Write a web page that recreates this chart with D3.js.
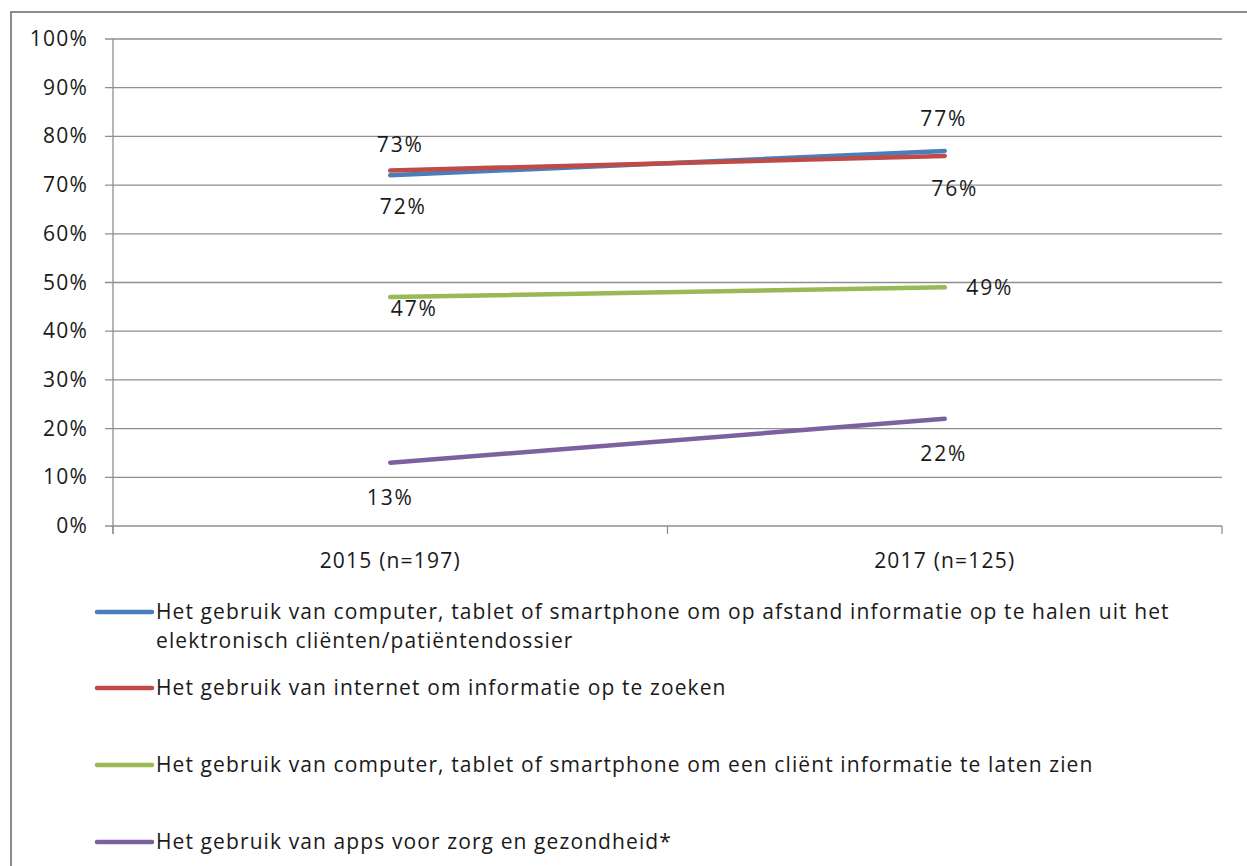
<!DOCTYPE html>
<html>
<head>
<meta charset="utf-8">
<script src="https://cdn.jsdelivr.net/npm/d3@7"></script>
<style>
  body { margin: 0; background: #fff; }
  text { font-family: "Open Sans", "Noto Sans", sans-serif; fill: #1a1a1a; }
</style>
</head>
<body>
<div id="chart"></div>
<script>
var width = 1247;
var height = 866;

// data
var years = ["2015 (n=197)", "2017 (n=125)"];
var series_names = [
  "Het gebruik van computer, tablet of smartphone om op afstand informatie op te halen uit het|elektronisch cliënten/patiëntendossier",
  "Het gebruik van internet om informatie op te zoeken",
  "Het gebruik van computer, tablet of smartphone om een cliënt informatie te laten zien",
  "Het gebruik van apps voor zorg en gezondheid*"
];
var blue_vals = [72, 77];
var red_vals = [73, 76];
var green_vals = [47, 49];
var purple_vals = [13, 22];
var y_ticks = [0, 10, 20, 30, 40, 50, 60, 70, 80, 90, 100];

let colors = ["#4A7EBB", "#BE4B48", "#98B954", "#7D60A0"];
let all_vals = [blue_vals, red_vals, green_vals, purple_vals];
// label placement (dx, dy from the point) like excel put them
let label_off = [
  [[13, 39], [-1, -25]],
  [[10, -18], [10, 40]],
  [[24, 19], [45, 8]],
  [[0, 42], [-1, 42]]
];

var svg = d3.select("#chart").append("svg")
  .attr("width", width)
  .attr("height", height);

// outer frame
svg.append("rect")
  .attr("x", 11).attr("y", 12)
  .attr("width", 1250).attr("height", 870)
  .style("fill", "none")
  .style("stroke", "#8c8c8c")
  .style("stroke-width", 2);

var p_left = 113, p_right = 1222, p_top = 39, p_bottom = 526;

var x = d3.scaleBand().domain(years).range([p_left, p_right]);
var y = d3.scaleLinear().domain([0, 100]).range([p_bottom, p_top]);

//-------------- grid + y axis ----------------
var g_grid = svg.append("g");
y_ticks.forEach(function(t) {
  g_grid.append("line")
    .attr("x1", p_left - 8).attr("x2", p_right)
    .attr("y1", y(t)).attr("y2", y(t))
    .style("stroke", "#8f8f8f").style("stroke-width", 1.3);
  g_grid.append("text")
    .attr("x", 88).attr("y", y(t) + 7)
    .attr("text-anchor", "end")
    .attr("font-size", 21)
    .attr("letter-spacing", 1.2)
    .text(t + "%");
});
g_grid.append("line")
  .attr("x1", p_left).attr("x2", p_left)
  .attr("y1", p_top).attr("y2", p_bottom + 8)
  .style("stroke", "#8f8f8f").style("stroke-width", 1.3);

// x ticks at band edges
[p_left, p_left + x.bandwidth(), p_right].forEach(function(px) {
  g_grid.append("line")
    .attr("x1", px).attr("x2", px)
    .attr("y1", p_bottom).attr("y2", p_bottom + 8)
    .style("stroke", "#8f8f8f").style("stroke-width", 1.3);
});
years.forEach(function(yr) {
  g_grid.append("text")
    .attr("x", x(yr) + x.bandwidth() / 2)
    .attr("y", 568)
    .attr("text-anchor", "middle")
    .attr("font-size", 21)
    .attr("letter-spacing", 1.2)
    .text(yr);
});

//-------------- lines ----------------
var line = d3.line()
  .x(function(d, i) { return x(years[i]) + x.bandwidth() / 2; })
  .y(function(d) { return y(d); });

var g_lines = svg.append("g");
all_vals.forEach(function(vals, k) {
  g_lines.append("path")
    .datum(vals)
    .attr("d", line)
    .style("fill", "none")
    .style("stroke", colors[k])
    .style("stroke-width", 4.5)
    .style("stroke-linecap", "round");
});

//-------------- data labels ----------------
var g_lab = svg.append("g");
all_vals.forEach(function(vals, k) {
  vals.forEach(function(v, i) {
    let px = x(years[i]) + x.bandwidth() / 2;
    let py = y(v);
    g_lab.append("text")
      .attr("x", px + label_off[k][i][0])
      .attr("y", py + label_off[k][i][1])
      .attr("text-anchor", "middle")
      .attr("font-size", 21)
      .attr("letter-spacing", 1.8)
      .text(v + "%");
  });
});

//-------------- legend ----------------
var leg_y = [612, 688, 765, 842];
var g_leg = svg.append("g");
series_names.forEach(function(name, k) {
  g_leg.append("line")
    .attr("x1", 97).attr("x2", 152)
    .attr("y1", leg_y[k]).attr("y2", leg_y[k])
    .style("stroke", colors[k])
    .style("stroke-width", 4.5)
    .style("stroke-linecap", "round");
  name.split("|").forEach(function(part, j) {
    g_leg.append("text")
      .attr("x", 156)
      .attr("y", leg_y[k] + 7 + j * 29)
      .attr("font-size", 21)
      .attr("letter-spacing", 1.1)
      .text(part);
  });
});
</script>
</body>
</html>
